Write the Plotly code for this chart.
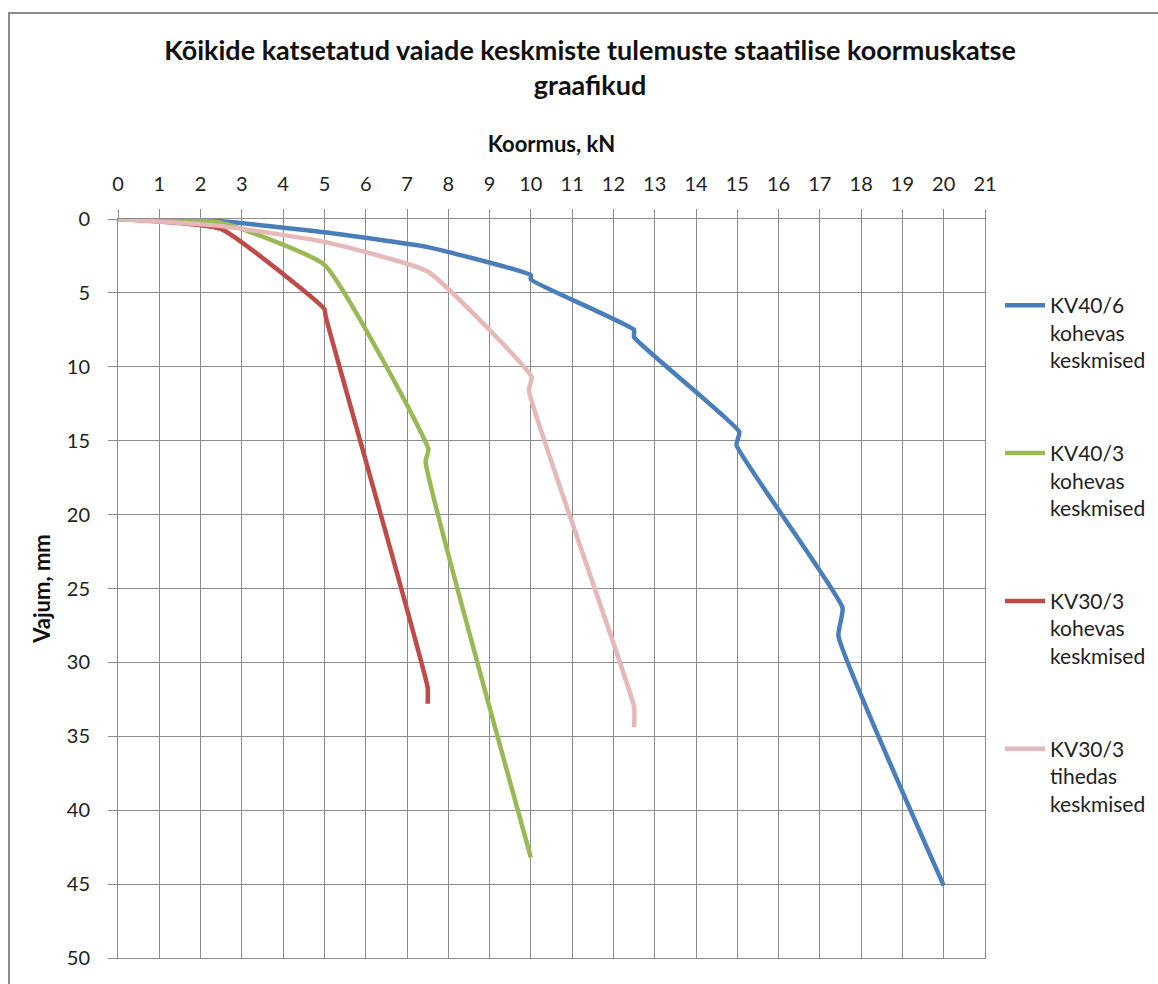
import plotly.graph_objects as go

# Load (kN) vs settlement (mm) for each averaged pile series
kv40_6_load = [0, 2.5, 5, 7.5, 10, 10, 12.5, 12.5, 15.05, 14.98, 17.55, 17.45, 20]
kv40_6_settle = [0, 0.15, 0.9, 1.9, 3.8, 4.1, 7.5, 8.0, 14.4, 15.3, 26.3, 28.2, 45.1]

kv40_3_load = [0, 2.5, 5, 7.52, 7.45, 10]
kv40_3_settle = [0, 0.25, 3.1, 15.6, 16.4, 43.2]

kv30_3k_load = [0, 2.5, 5, 5.03, 7.5, 7.5]
kv30_3k_settle = [0, 0.68, 6.1, 6.6, 31.7, 32.8]

kv30_3t_load = [0, 2.5, 5, 7.5, 10.02, 9.95, 12.5, 12.5]
kv30_3t_settle = [0, 0.47, 1.55, 3.55, 10.7, 11.6, 33.0, 34.4]

series_names = [
    "KV40/6<br>kohevas<br>keskmised",
    "KV40/3<br>kohevas<br>keskmised",
    "KV30/3<br>kohevas<br>keskmised",
    "KV30/3<br>tihedas<br>keskmised",
]
series_colors = ["#4A7EBB", "#98B954", "#BE4B48", "#E6B9B8"]

x_ticks = list(range(0, 22))
y_ticks = list(range(0, 51, 5))

FONT = "Lato, 'Open Sans', sans-serif"
GRID = "#8C8C8C"

fig = go.Figure()
data = [
    (kv40_6_load, kv40_6_settle),
    (kv40_3_load, kv40_3_settle),
    (kv30_3k_load, kv30_3k_settle),
    (kv30_3t_load, kv30_3t_settle),
]
for i, ((xs, ys), name, col) in enumerate(zip(data, series_names, series_colors)):
    fig.add_trace(go.Scatter(
        x=xs, y=ys, name=name, mode="lines",
        line=dict(color=col, width=4.5, shape="spline", smoothing=0.4),
        legendgroup=f"g{i}",
    ))

W, H = 1158, 984
ML, MR, MT, MB = 118, 173, 219, 26
pw, ph = W - ML - MR, H - MT - MB


def px_to_paper(px, py):
    return (px - ML) / pw, (H - MB - py) / ph


bx0, by0 = px_to_paper(9, 13)
bx1, by1 = px_to_paper(1200, 1020)

fig.update_layout(
    width=W, height=H,
    margin=dict(l=ML, r=MR, t=MT, b=MB, autoexpand=False),
    paper_bgcolor="white", plot_bgcolor="white",
    font=dict(family=FONT, color="#222222"),
    title=dict(
        text="Kõikide katsetatud vaiade keskmiste tulemuste staatilise koormuskatse<br>graafikud",
        x=590 / W, xanchor="center", y=1 - 60 / H, yanchor="top",
        font=dict(family=FONT, size=27, color="#111111", weight="bold"),
    ),
    xaxis=dict(
        side="top", range=[0, 21], tickvals=x_ticks, ticktext=[str(v) for v in x_ticks],
        showgrid=True, gridcolor=GRID, gridwidth=1,
        showline=True, linecolor=GRID, linewidth=1, mirror=True,
        ticks="outside", ticklen=9, tickcolor=GRID, tickwidth=1,
        tickfont=dict(size=20, family=FONT, color="#222222"),
        ticklabelstandoff=10,
        zeroline=False,
        title=dict(text="Koormus, kN", standoff=12,
                   font=dict(size=22, family=FONT, color="#111111", weight="bold")),
    ),
    yaxis=dict(
        range=[50, 0], tickvals=y_ticks, ticktext=[str(v) for v in y_ticks],
        showgrid=True, gridcolor=GRID, gridwidth=1,
        showline=True, linecolor=GRID, linewidth=1, mirror=True,
        ticks="outside", ticklen=9, tickcolor=GRID, tickwidth=1,
        tickfont=dict(size=20, family=FONT, color="#222222"),
        ticklabelstandoff=14,
        zeroline=False,
        title=dict(text="Vajum, mm", standoff=10,
                   font=dict(size=22, family=FONT, color="#111111", weight="bold")),
    ),
    legend=dict(
        x=(1000 - ML) / pw, xanchor="left", y=px_to_paper(0, 285)[1], yanchor="top",
        font=dict(size=21, family=FONT, color="#222222"),
        tracegroupgap=63, valign="top", itemwidth=40,
        bgcolor="rgba(0,0,0,0)",
    ),
    showlegend=True,
    shapes=[dict(
        type="rect", xref="paper", yref="paper",
        x0=bx0, y0=by1, x1=bx1, y1=by0,
        line=dict(color="#8A8A8A", width=2), fillcolor="rgba(0,0,0,0)", layer="below",
    )],
)

fig.write_html("out.html")
